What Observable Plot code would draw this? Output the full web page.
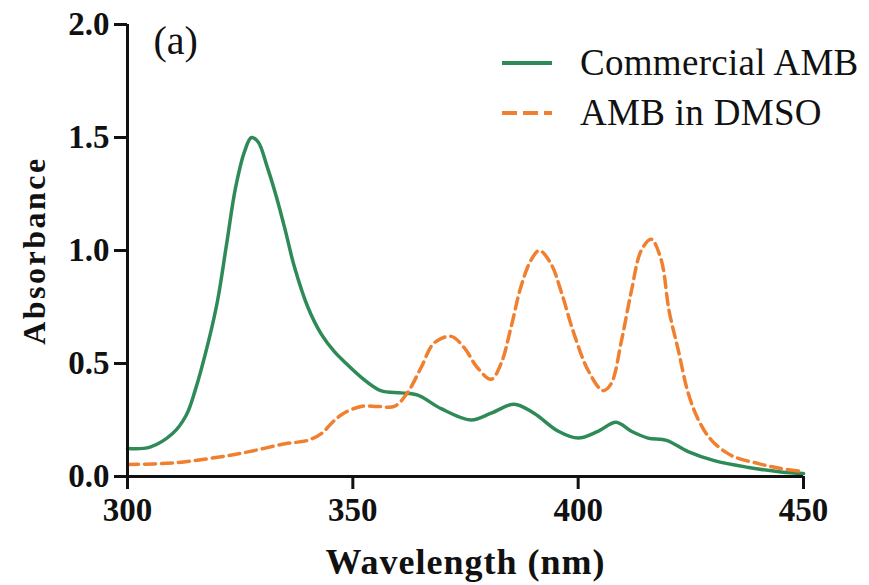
<!DOCTYPE html>
<html>
<head>
<meta charset="utf-8">
<script src="https://cdn.jsdelivr.net/npm/d3@7"></script>
<script src="https://cdn.jsdelivr.net/npm/@observablehq/plot@0.6"></script>
<style>
  html, body { margin: 0; padding: 0; background: #fff; }
  #wrap { position: relative; width: 869px; height: 585px; }
  #legend { position: absolute; left: 500px; top: 38px; font-family: "Liberation Serif", serif; font-size: 37px; letter-spacing: 0.3px; color: #111; }
  .row { display: flex; align-items: center; height: 50px; line-height: 50px; white-space: nowrap; }
  .row svg { margin-right: 28px; }
</style>
</head>
<body>
<div id="wrap"><div id="legend"></div></div>
<script>
// Wavelength (nm) and absorbance readings
const commercialNm = [300,305,310,313,315,318,320,322,324,326,327.5,329,331,333,335,337,340,343,346,348,351.8,356.2,360.7,364.4,369.6,376.2,380.7,385.8,390.2,395.6,400,404.4,408.4,411.8,415.5,419.6,424.4,430.2,437.8,445,450];
const commercialAbs = [0.124,0.13,0.19,0.27,0.38,0.60,0.78,1.03,1.28,1.44,1.50,1.48,1.37,1.24,1.09,0.93,0.75,0.63,0.55,0.51,0.44,0.38,0.37,0.36,0.30,0.25,0.28,0.32,0.28,0.20,0.17,0.20,0.24,0.20,0.17,0.16,0.11,0.07,0.04,0.02,0.013];

const dmsoNm = [300,310,320,327,335,340,343,346,348,351.8,355.5,359.2,362.1,365.1,368,371.8,374.7,377.7,380.7,382.9,385.1,387.3,389.6,391.4,394,396.2,399.1,402.2,405.5,407.3,409.6,411.8,414,416.2,418.4,420.2,422.2,424.4,426.7,429.6,434,440,445,450];
const dmsoAbs = [0.053,0.06,0.085,0.11,0.145,0.16,0.19,0.25,0.28,0.31,0.31,0.31,0.37,0.48,0.59,0.62,0.57,0.48,0.43,0.50,0.66,0.84,0.96,1.00,0.94,0.82,0.63,0.47,0.38,0.41,0.60,0.82,1.00,1.05,0.96,0.73,0.56,0.37,0.25,0.16,0.093,0.057,0.035,0.022];

const xTicks = [300, 350, 400, 450];
const yTicks = [0, 0.5, 1.0, 1.5, 2.0];
const seriesNames = ["Commercial AMB", "AMB in DMSO"];
const seriesColors = ["#2e8b57", "#f0802f"];
const dash = "11,6";

const commercial = commercialNm.map((x, i) => ({x, y: commercialAbs[i]}));
const dmso = dmsoNm.map((x, i) => ({x, y: dmsoAbs[i]}));

const chart = Plot.plot({
  width: 869,
  height: 585,
  marginLeft: 127,
  marginRight: 66,
  marginTop: 24,
  marginBottom: 109,
  style: {fontFamily: "Liberation Serif, serif", color: "#111", background: "#fff"},
  x: {domain: [300, 450], ticks: xTicks},
  y: {domain: [0, 2.0], ticks: yTicks},
  marks: [
    Plot.line(commercial, {x: "x", y: "y", stroke: seriesColors[0], strokeWidth: 3.5, curve: "catmull-rom"}),
    Plot.line(dmso, {x: "x", y: "y", stroke: seriesColors[1], strokeWidth: 3.5, strokeDasharray: dash, curve: "catmull-rom"}),
    Plot.ruleX([300], {stroke: "#111", strokeWidth: 3}),
    Plot.ruleY([0], {stroke: "#111", strokeWidth: 3}),
    Plot.axisX({ticks: xTicks, tickSize: 13, tickPadding: 8, strokeWidth: 3, stroke: "#111", fontSize: 33, fontWeight: "bold", label: null, tickFormat: d3.format("d")}),
    Plot.axisY({ticks: yTicks, tickSize: 13, tickPadding: 5, strokeWidth: 3, stroke: "#111", fontSize: 33, fontWeight: "bold", label: null, tickFormat: d3.format(".1f")}),
    Plot.text(["Wavelength (nm)"], {frameAnchor: "bottom", text: d => d, dy: 86, dx: 0, fontSize: 36, fontWeight: "bold", textAnchor: "middle", lineAnchor: "middle", fill: "#111"}),
    Plot.text(["Absorbance"], {frameAnchor: "left", text: d => d, rotate: -90, dx: -93, fontSize: 32, fontWeight: "bold", textAnchor: "middle", lineAnchor: "middle", fill: "#111"}),
    Plot.text(["(a)"], {frameAnchor: "top-left", text: d => d, dx: 26, dy: 17, fontSize: 40, textAnchor: "start", lineAnchor: "middle", fill: "#111"})
  ]
});
d3.select(chart).selectAll("text").each(function() {
  const t = this.textContent;
  if (t === "Wavelength (nm)") this.style.letterSpacing = "1px";
  if (t === "Absorbance") this.style.letterSpacing = "2.5px";
});
const wrap = document.getElementById("wrap");
wrap.insertBefore(chart, wrap.firstChild);

const legend = document.getElementById("legend");
seriesNames.forEach((name, i) => {
  const row = document.createElement("div");
  row.className = "row";
  const ns = "http://www.w3.org/2000/svg";
  const s = document.createElementNS(ns, "svg");
  s.setAttribute("width", "52"); s.setAttribute("height", "8");
  const l = document.createElementNS(ns, "line");
  l.setAttribute("x1", "2"); l.setAttribute("x2", "52"); l.setAttribute("y1", "4"); l.setAttribute("y2", "4");
  l.setAttribute("stroke", seriesColors[i]); l.setAttribute("stroke-width", "4");
  if (i === 1) l.setAttribute("stroke-dasharray", "15,6");
  s.appendChild(l);
  row.appendChild(s);
  const t = document.createElement("span");
  t.textContent = name;
  row.appendChild(t);
  legend.appendChild(row);
});
</script>
</body>
</html>
